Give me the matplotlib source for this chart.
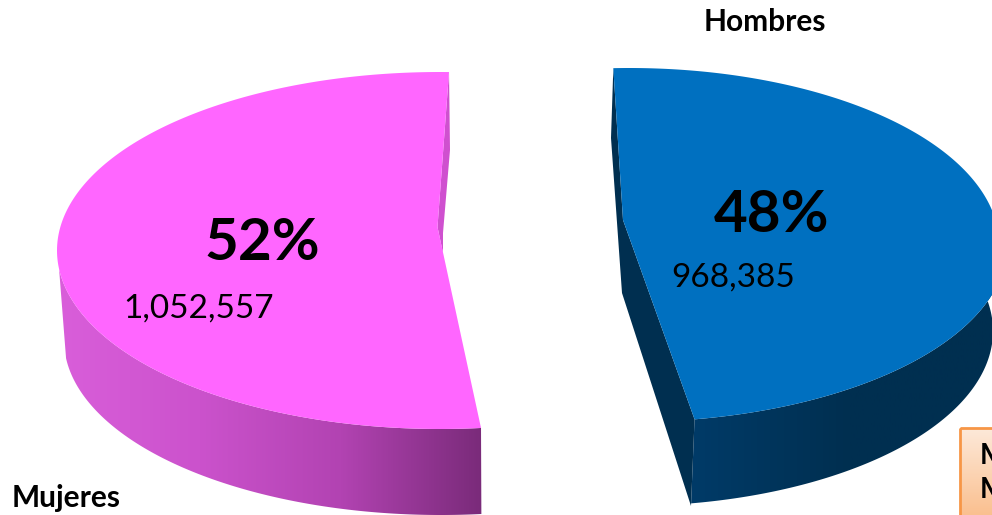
import numpy as np
import matplotlib
matplotlib.use('Agg')
import matplotlib.pyplot as plt
from matplotlib.colors import LinearSegmentedColormap
from matplotlib.patches import Polygon, Rectangle

categories = ['Mujeres', 'Hombres']
valores = [1052557, 968385]

plt.rcParams['font.family'] = ['Lato', 'DejaVu Sans']

fig = plt.figure(figsize=(9.92, 5.15), dpi=100)
ax = fig.add_axes([0, 0, 1, 1])
ax.set_xlim(0, 992)
ax.set_ylim(515, 0)
ax.axis('off')

total = sum(valores)
sweeps = [360 * v / total for v in valores]


def arco(cx, cy, a, b, ang1, ang2, n=200):
    t = np.radians(np.linspace(ang1, ang2, n))
    return np.column_stack((cx + a * np.cos(t), cy - b * np.sin(t)))


def pared(arriba, abajo, cmap):
    # the side wall gets its shading from a clipped horizontal gradient
    path = Polygon(np.vstack((arriba, abajo[::-1])), closed=True,
                   transform=ax.transData, facecolor='none', edgecolor='none')
    ax.add_patch(path)
    grad = np.linspace(0, 1, 256).reshape(1, -1)
    xs = np.vstack((arriba, abajo))[:, 0]
    im = ax.imshow(grad, cmap=cmap, extent=(xs.min(), xs.max(), 515, 0),
                   aspect='auto', zorder=1)
    im.set_clip_path(path)


# Mujeres
ini = 88.65
fin = ini + sweeps[0]
cmap_m = LinearSegmentedColormap.from_list('m', ['#D95EDA', '#CB52CC', '#B243B2', '#7A2B7A'])
pared(arco(440, 250.5, 383, 178.5, 186, fin), arco(441, 340, 377, 175, 186, fin), cmap_m)
borde = arco(440, 250.5, 383, 178.5, ini, fin)
ax.add_patch(Polygon([borde[0], (450, 150), (443, 233), (443, 253), (437.5, 227)],
                     closed=True, facecolor='#CF50CF', edgecolor='none', zorder=2))
ax.add_patch(Polygon(np.vstack((borde, [(437.5, 227)])), closed=True,
                     facecolor='#FF66FF', edgecolor='none', zorder=3))

# Hombres, the upper right is a bit narrower than the lower part
fin = 92.46
ini = fin - sweeps[1]
cmap_h = LinearSegmentedColormap.from_list('h', ['#003B68', '#002F50', '#002F50'])
pared(arco(629.2, 245, 378, 177, ini, 10), arco(628, 331, 365, 175, ini, 10), cmap_h)
borde = np.vstack((arco(629.2, 245, 378, 177, ini, 0), arco(629.2, 245, 370, 177, 0, fin)))
ax.add_patch(Polygon([borde[-1], (611, 138), (622, 293), (691, 506), borde[0], (623, 220)],
                     closed=True, facecolor='#002F50', edgecolor='none', zorder=2))
ax.add_patch(Polygon(np.vstack((borde, [(623, 220)])), closed=True,
                     facecolor='#0070C0', edgecolor='none', zorder=3))

# text
for x, y, v in zip([262, 772], [243, 215], valores):
    ax.text(x, y, f'{round(100 * v / total)}%', ha='center', va='center',
            fontsize=42, fontweight='bold', color='black', zorder=5)
for x, y, v in zip([199, 733], [309, 278], valores):
    ax.text(x, y, f'{v:,}', ha='center', va='center', fontsize=24, color='black', zorder=5)
ax.text(66, 498, categories[0], ha='center', va='center', fontsize=21.5, fontweight='bold')
ax.text(765, 22, categories[1], ha='center', va='center', fontsize=21.5, fontweight='bold')

# note box cut off by the edge
caja = Rectangle((960, 428), 60, 100, facecolor='none', edgecolor='#F79646', lw=2, zorder=7)
ax.add_patch(caja)
grad = np.linspace(0, 1, 64).reshape(-1, 1)
cmap_c = LinearSegmentedColormap.from_list('c', ['#FDE9D9', '#FAC090'])
im = ax.imshow(grad, cmap=cmap_c, extent=(960, 1020, 515, 428), aspect='auto', zorder=6)
ax.text(980, 456, 'M', fontsize=20, fontweight='bold', va='center', zorder=8, clip_on=True)
ax.text(980, 490, 'M', fontsize=20, fontweight='bold', va='center', zorder=8, clip_on=True)

ax.set_xlim(0, 992)
ax.set_ylim(515, 0)
fig.savefig('out.png', dpi=100)
